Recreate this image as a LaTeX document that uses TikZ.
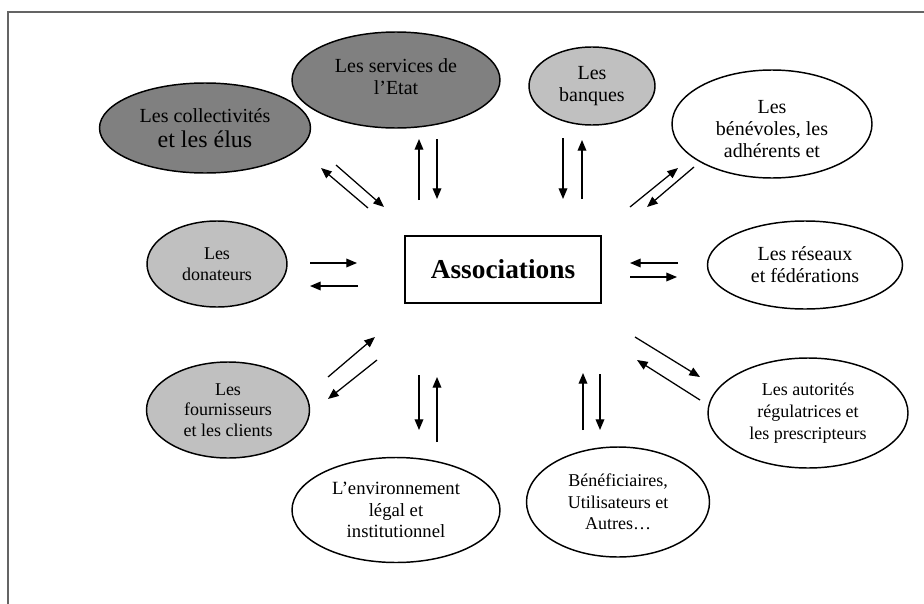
\documentclass[tikz,border=0pt]{standalone}
\usepackage{fontspec}
\setmainfont{Liberation Serif}
\usetikzlibrary{shapes.geometric,arrows.meta}
\definecolor{darkfill}{RGB}{128,128,128}
\definecolor{lightfill}{RGB}{192,192,192}
\definecolor{framegray}{RGB}{100,100,100}
\begin{document}
\begin{tikzpicture}[x=0.75pt,y=-0.75pt,
  ell/.style={ellipse, draw=black, line width=1.1pt, inner sep=0pt, align=center},
  dellipse/.style={ell, fill=darkfill},
  lellipse/.style={ell, fill=lightfill},
  wellipse/.style={ell, fill=white},
  arr/.style={line width=0.95pt, -{Triangle[length=8pt,width=6.5pt]}},
  fbig/.style={font=\fontsize{15}{16.5}\selectfont},
  fsmall/.style={font=\fontsize{13.5}{16}\selectfont},
]
\useasboundingbox (0,0) rectangle (924,603);
\fill[white] (0,0) rectangle (924,603);
\draw[framegray, line width=1.5pt] (8,610) -- (8,12) -- (930,12);

% central box
\node[draw=black, line width=1pt, minimum width=147pt, minimum height=50.25pt, inner sep=0pt,
  font=\fontsize{20.5}{22}\selectfont\bfseries] (assoc) at (503,269.5) {Associations};

% ellipses
\node[dellipse, font=\fontsize{15}{19}\selectfont, minimum width=158.25pt, minimum height=67.5pt] (coll) at (205,128)
  {Les collectivités\\{\fontsize{18}{19}\selectfont et les élus}};
\node[dellipse, fbig, minimum width=156pt, minimum height=72pt] (serv) at (396,80)
  {Les services de\\l’Etat\strut};
\node[lellipse, fbig, minimum width=94.5pt, minimum height=58.5pt] (banq) at (592,86)
  {Les\\banques};
\node[wellipse, fbig, minimum width=150pt, minimum height=81pt] (bene) at (772,124)
  {\rule{0pt}{17pt}Les\\bénévoles, les\\adhérents et};
\node[lellipse, fsmall, minimum width=105pt, minimum height=64.5pt] (dona) at (217,264)
  {Les\\donateurs};
\node[wellipse, fbig, minimum width=146.25pt, minimum height=66pt] (rese) at (805,265)
  {Les réseaux\\et fédérations};
\node[wellipse, font=\fontsize{13.5}{16.5}\selectfont, minimum width=150pt, minimum height=82.5pt] (auto) at (808,413)
  {Les autorités\\régulatrices et\\les prescripteurs};
\node[lellipse, font=\fontsize{13.5}{15.5}\selectfont, minimum width=122.25pt, minimum height=72pt] (four) at (228,410)
  {Les\\fournisseurs\\et les clients};
\node[wellipse, font=\fontsize{14}{16}\selectfont, minimum width=156pt, minimum height=78.75pt] (envi) at (396,510)
  {L’environnement\\légal et\\institutionnel};
\node[wellipse, font=\fontsize{13.5}{16}\selectfont, minimum width=137.25pt, minimum height=82.5pt] (bnf) at (618,502)
  {Bénéficiaires,\\Utilisateurs et\\Autres…};

% arrow end points
\coordinate (a1s) at (368,208); \coordinate (a1e) at (321,168);
\coordinate (a2s) at (336,165); \coordinate (a2e) at (384,207);
\coordinate (b1s) at (419,200); \coordinate (b1e) at (419,139);
\coordinate (b2s) at (437,139); \coordinate (b2e) at (437,199);
\coordinate (c1s) at (563,138); \coordinate (c1e) at (563,199);
\coordinate (c2s) at (582,199); \coordinate (c2e) at (582,140);
\coordinate (d1s) at (630,207); \coordinate (d1e) at (678,168);
\coordinate (d2s) at (694,167); \coordinate (d2e) at (647,207);
\coordinate (e1s) at (310,263); \coordinate (e1e) at (357,263);
\coordinate (e2s) at (358,286); \coordinate (e2e) at (310,286);
\coordinate (f1s) at (678,263); \coordinate (f1e) at (630,263);
\coordinate (f2s) at (630,277); \coordinate (f2e) at (677,277);
\coordinate (g1s) at (635,337); \coordinate (g1e) at (700,377);
\coordinate (g2s) at (700,400); \coordinate (g2e) at (637,360);
\coordinate (h1s) at (583,430); \coordinate (h1e) at (583,373);
\coordinate (h2s) at (600,374); \coordinate (h2e) at (600,430);
\coordinate (i1s) at (328,377); \coordinate (i1e) at (375,337);
\coordinate (i2s) at (377,360); \coordinate (i2e) at (328,399);
\coordinate (j1s) at (419,375); \coordinate (j1e) at (419,430);
\coordinate (j2s) at (437,442); \coordinate (j2e) at (437,377);

\foreach \p in {a,b,c,d,e,f,g,h,i,j}{
  \draw[arr] (\p1s) -- (\p1e);
  \draw[arr] (\p2s) -- (\p2e);
}
\end{tikzpicture}
\end{document}
